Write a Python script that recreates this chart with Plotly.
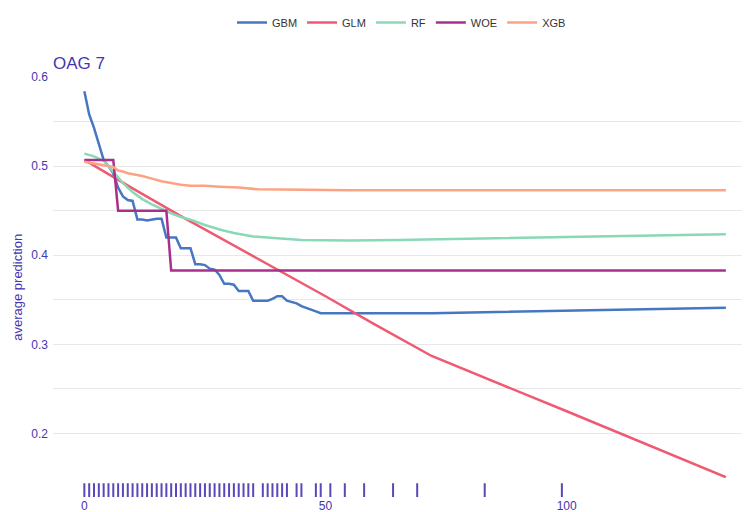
import plotly.graph_objects as go

# partial dependence of OAG 7
gbm_x = [0, 1, 2, 3, 4, 5, 6, 7, 8, 9, 10, 11, 12, 13, 14, 15, 16, 17, 18, 19, 20, 21, 22,
         23, 24, 25, 26, 27, 28, 29, 30, 31, 32, 33, 34, 35, 37, 38, 39, 40, 41, 42, 44, 45,
         48, 49, 51, 54, 58, 64, 69, 72, 133]
gbm_y = [0.584, 0.558, 0.543, 0.525, 0.507, 0.500, 0.492, 0.476, 0.466, 0.462, 0.461, 0.440,
         0.440, 0.439, 0.440, 0.441, 0.441, 0.420, 0.420, 0.420, 0.408, 0.408, 0.408, 0.390,
         0.390, 0.389, 0.385, 0.384, 0.378, 0.368, 0.368, 0.367, 0.360, 0.360, 0.360, 0.349,
         0.349, 0.349, 0.351, 0.354, 0.354, 0.349, 0.346, 0.343, 0.337, 0.335, 0.335, 0.335,
         0.335, 0.335, 0.335, 0.335, 0.341]

glm_x = [0, 10, 20, 30, 40, 50, 60, 72, 100, 133]
glm_y = [0.507, 0.475, 0.444, 0.414, 0.384, 0.354, 0.323, 0.287, 0.225, 0.151]

rf_x = [0, 2, 4, 6, 8, 10, 12, 14, 16, 18, 20, 22, 25, 28, 31, 35, 40, 45, 55, 65, 133]
rf_y = [0.514, 0.511, 0.506, 0.494, 0.481, 0.471, 0.463, 0.457, 0.452, 0.447, 0.443, 0.440,
        0.434, 0.429, 0.425, 0.421, 0.419, 0.417, 0.4165, 0.417, 0.4237]

woe_x = [0, 6, 7, 17, 18, 133]
woe_y = [0.507, 0.507, 0.450, 0.450, 0.383, 0.383]

xgb_x = [0, 2, 4, 5, 6, 7, 8, 9, 10, 12, 14, 16, 18, 20, 22, 25, 28, 32, 36, 42, 55, 70, 133]
xgb_y = [0.505, 0.503, 0.501, 0.500, 0.499, 0.495, 0.494, 0.492, 0.491, 0.489, 0.486, 0.483,
         0.481, 0.479, 0.478, 0.478, 0.477, 0.476, 0.474, 0.4735, 0.473, 0.473, 0.473]

rug_x = list(range(0, 36)) + [37, 38, 39, 40, 41, 42, 44, 45, 48, 49, 51, 54, 58, 64, 69, 83, 99]

series = [
    ('GBM', gbm_x, gbm_y, '#4677c0'),
    ('GLM', glm_x, glm_y, '#ef5a72'),
    ('RF', rf_x, rf_y, '#8bd8b6'),
    ('WOE', woe_x, woe_y, '#a8308c'),
    ('XGB', xgb_x, xgb_y, '#fda384'),
]

txt = '#4535b0'

fig = go.Figure()

for name, xs, ys, col in series:
    fig.add_trace(go.Scatter(x=xs, y=ys, mode='lines', name=name, xaxis='x', yaxis='y',
                             line=dict(color=col, width=2.5)))

fig.add_trace(go.Scatter(x=rug_x, y=[0] * len(rug_x), mode='markers', showlegend=False,
                         xaxis='x2', yaxis='y2',
                         marker=dict(symbol='line-ns-open', size=14, color='rgba(60,40,170,0.85)',
                                     line=dict(color='rgba(60,40,170,0.85)', width=2))))

# page body adds 8px, so the figure is a bit smaller than the window
fig.update_layout(
    width=742,
    height=504,
    margin=dict(l=45, r=0, t=65, b=15),
    paper_bgcolor='white',
    plot_bgcolor='white',
    font=dict(family='Arial', size=12, color=txt),
    legend=dict(orientation='h', x=0.5, xanchor='center', y=1.13, yanchor='middle',
                font=dict(size=11, color='#333333')),
    annotations=[
        dict(text='OAG 7', x=-0.003, y=1.031, xref='paper', yref='paper',
             xanchor='left', yanchor='middle', showarrow=False,
             font=dict(size=17, color=txt)),
        dict(text='average prediction', x=-0.052, y=0.5, xref='paper', yref='paper',
             xanchor='center', yanchor='middle', textangle=-90, showarrow=False,
             font=dict(size=13, color=txt)),
    ],
    xaxis=dict(domain=[0, 1], anchor='y', range=[-6.5, 138], showgrid=False, zeroline=False,
               showticklabels=False, automargin=False),
    xaxis2=dict(domain=[0, 1], anchor='y2', matches='x', range=[-6.5, 138], showgrid=False,
                zeroline=False, tickvals=[0, 50, 100], ticks='', automargin=False,
                tickfont=dict(size=12, color=txt)),
    yaxis=dict(domain=[0.045, 1], anchor='x', range=[0.15, 0.6], dtick=0.1, tickformat='.1f',
               showgrid=True, gridcolor='#e8e8e8', zeroline=False, ticks='', automargin=False,
               ticklabelstandoff=4,
               minor=dict(dtick=0.05, showgrid=True, gridcolor='#e8e8e8')),
    yaxis2=dict(domain=[0, 0.033], anchor='x2', range=[-1, 1], showgrid=False, zeroline=False,
                showticklabels=False, automargin=False),
)

fig.write_html("out.html")
